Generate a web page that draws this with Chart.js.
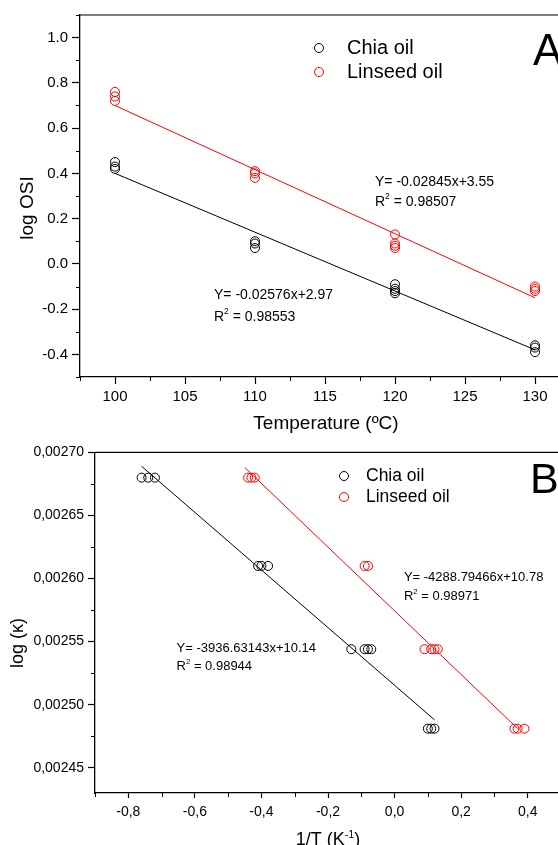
<!DOCTYPE html>
<html lang="en">
<head>
<meta charset="UTF-8">
<title>log OSI vs Temperature / 1/T vs log(k)</title>
<script src="https://cdn.jsdelivr.net/npm/chart.js"></script>
<style>
    html, body { margin: 0; padding: 0; background: #fff; width: 558px; height: 845px; overflow: hidden; }
    canvas { position: absolute; left: 0; }
    #chartA { top: 0; }
    #chartB { top: 440px; }
</style>
</head>
<body>
<canvas id="chartA" width="600" height="440"></canvas>
<canvas id="chartB" width="600" height="420"></canvas>

<script>
    const FONT = "'Liberation Sans', Arial, Helvetica, sans-serif";

    // ---- Panel A: log OSI vs temperature ----
    const chiaTempA    = [100, 100, 100, 110, 110, 110, 120, 120, 120, 120, 130, 130, 130];
    const chiaOsiA     = [0.45, 0.43, 0.42, 0.10, 0.09, 0.07, -0.09, -0.11, -0.12, -0.13, -0.36, -0.37, -0.39];
    const linseedTempA = [100, 100, 100, 110, 110, 110, 120, 120, 120, 120, 130, 130, 130];
    const linseedOsiA  = [0.76, 0.74, 0.72, 0.41, 0.40, 0.38, 0.13, 0.09, 0.08, 0.07, -0.10, -0.11, -0.12];
    const chiaFitTempA    = [100, 130];
    const chiaFitOsiA     = [0.40, -0.38];
    const linseedFitTempA = [100, 130];
    const linseedFitOsiA  = [0.70, -0.15];
    const xTicksA = [100, 105, 110, 115, 120, 125, 130];
    const yTicksA = [-0.4, -0.2, 0.0, 0.2, 0.4, 0.6, 0.8, 1.0];

    // ---- Panel B ----
    const chiaXB    = [-0.76, -0.74, -0.72, -0.41, -0.40, -0.38, -0.13, -0.09, -0.08, -0.07, 0.10, 0.11, 0.12];
    const chiaYB    = [0.00268, 0.00268, 0.00268, 0.00261, 0.00261, 0.00261, 0.002544, 0.002544, 0.002544, 0.002544, 0.002481, 0.002481, 0.002481];
    const linseedXB = [-0.44, -0.43, -0.42, -0.09, -0.08, 0.09, 0.11, 0.12, 0.13, 0.36, 0.37, 0.39];
    const linseedYB = [0.00268, 0.00268, 0.00268, 0.00261, 0.00261, 0.002544, 0.002544, 0.002544, 0.002544, 0.002481, 0.002481, 0.002481];
    const chiaFitXB    = [-0.76, 0.12];
    const chiaFitYB    = [0.002689, 0.002488];
    const linseedFitXB = [-0.45, 0.37];
    const linseedFitYB = [0.002688, 0.002481];
    const xTicksB = [-0.8, -0.6, -0.4, -0.2, 0.0, 0.2, 0.4];
    const yTicksB = [0.00245, 0.00250, 0.00255, 0.00260, 0.00265, 0.00270];

    const xy = (xs, ys) => xs.map((x, i) => ({ x, y: ys[i] }));

    function drawParts(ctx, parts, x, y, size, align) {
        const widths = parts.map(p => {
            ctx.font = (p.sup ? size * 0.6 : size) + 'px ' + FONT;
            return ctx.measureText(p.t).width;
        });
        const total = widths.reduce((a, b) => a + b, 0);
        let cx = align === 'center' ? x - total / 2 : x;
        ctx.textAlign = 'left';
        parts.forEach((p, i) => {
            ctx.font = (p.sup ? size * 0.6 : size) + 'px ' + FONT;
            ctx.fillText(p.t, cx, p.sup ? y - size * 0.38 : y);
            cx += widths[i];
        });
    }

    // frame, minor ticks, legend, equations, titles, panel letter
    const decor = {
        id: 'decor',
        afterDraw(chart, args, o) {
            const { ctx, chartArea: a, scales: { x, y } } = chart;
            ctx.save();
            ctx.strokeStyle = '#000';
            ctx.fillStyle = '#000';
            ctx.lineWidth = 1.2;
            ctx.beginPath();
            ctx.moveTo(a.left, a.top);
            ctx.lineTo(a.right, a.top);
            ctx.lineTo(a.right, a.bottom);
            ctx.stroke();

            // minor ticks (odd multiples of the minor step)
            ctx.lineWidth = 1;
            for (let k = Math.ceil(x.min / o.minorX); k * o.minorX <= x.max + 1e-12; k++) {
                if (k % 2 === 0) continue;
                const px = Math.round(x.getPixelForValue(k * o.minorX)) + 0.5;
                ctx.beginPath(); ctx.moveTo(px, a.bottom); ctx.lineTo(px, a.bottom + o.minorLen); ctx.stroke();
            }
            for (let k = Math.ceil(y.min / o.minorY - 1e-9); k * o.minorY <= y.max + 1e-12; k++) {
                if (k % 2 === 0) continue;
                const py = Math.round(y.getPixelForValue(k * o.minorY)) + 0.5;
                ctx.beginPath(); ctx.moveTo(a.left, py); ctx.lineTo(a.left - o.minorLen, py); ctx.stroke();
            }

            // legend
            const L = o.legend;
            ctx.textBaseline = 'middle';
            [0, 1].forEach(i => {
                const ds = chart.data.datasets[i];
                const ly = L.y + i * L.dy;
                ctx.strokeStyle = ds.pointBorderColor;
                ctx.beginPath(); ctx.arc(L.x, ly, L.r, 0, Math.PI * 2); ctx.stroke();
                ctx.fillStyle = '#000';
                ctx.font = L.size + 'px ' + FONT;
                ctx.textAlign = 'left';
                ctx.fillText(ds.label, L.textX, ly);
            });

            // equations placed in data space
            o.notes.forEach(n => {
                const nx = x.getPixelForValue(n.x);
                const ny = y.getPixelForValue(n.y);
                n.lines.forEach((parts, j) => drawParts(ctx, parts, nx, ny + j * n.dy, o.noteSize, 'left'));
            });

            // axis titles
            ctx.textBaseline = 'alphabetic';
            drawParts(ctx, o.xTitle.parts, o.xTitle.x, o.xTitle.y, o.xTitle.size, 'center');
            ctx.save();
            ctx.translate(o.yTitle.x, o.yTitle.y);
            ctx.rotate(-Math.PI / 2);
            drawParts(ctx, o.yTitle.parts, 0, 0, o.yTitle.size, 'center');
            ctx.restore();

            // panel letter
            ctx.font = o.letter.size + 'px ' + FONT;
            ctx.textAlign = 'left';
            ctx.fillText(o.letter.text, o.letter.x, o.letter.y);
            ctx.restore();
        }
    };

    function axis(min, max, ticks, fmt, fontSize, tickLength, padding, size, horizontal) {
        return {
            type: 'linear', min, max,
            afterBuildTicks: s => { s.ticks = ticks.map(v => ({ value: v })); },
            afterFit: s => { if (horizontal) s.height = size; else s.width = size; },
            ticks: { callback: fmt, color: '#000', font: { family: FONT, size: fontSize }, padding, autoSkip: false, maxRotation: 0 },
            grid: { display: true, drawOnChartArea: false, drawTicks: true, tickLength, tickWidth: 1.2, tickColor: '#000' },
            border: { display: true, color: '#000', width: 1.3 }
        };
    }

    function scatterSet(label, data, color) {
        return { label, data, showLine: false, pointStyle: 'circle', pointRadius: 4.5, pointBorderWidth: 1,
                 pointBackgroundColor: 'rgba(0,0,0,0)', pointBorderColor: color, borderColor: color };
    }
    function fitSet(data, color) {
        return { label: 'fit', data, showLine: true, pointRadius: 0, borderColor: color, borderWidth: 1, fill: false };
    }

    const sup = (t) => ({ t, sup: true });

    // Panel A
    new Chart(document.getElementById('chartA'), {
        type: 'scatter',
        data: {
            datasets: [
                scatterSet('Chia oil', xy(chiaTempA, chiaOsiA), '#000000'),
                scatterSet('Linseed oil', xy(linseedTempA, linseedOsiA), '#ff0000'),
                fitSet(xy(chiaFitTempA, chiaFitOsiA), '#000000'),
                fitSet(xy(linseedFitTempA, linseedFitOsiA), '#ff0000')
            ]
        },
        options: {
            responsive: false, animation: false,
            layout: { padding: { top: 15, right: 30, bottom: 0, left: 0 } },
            plugins: {
                legend: { display: false }, tooltip: { enabled: false },
                decor: {
                    minorX: 2.5, minorY: 0.1, minorLen: 4,
                    legend: { x: 319, y: 48, dy: 24, textX: 347, size: 20, r: 4.5 },
                    noteSize: 14,
                    notes: [
                        { x: 118.57, y: 0.362, dy: 20, lines: [[{ t: 'Y= -0.02845x+3.55' }], [{ t: 'R' }, sup('2'), { t: ' = 0.98507' }]] },
                        { x: 107.07, y: -0.138, dy: 22, lines: [[{ t: 'Y= -0.02576x+2.97' }], [{ t: 'R' }, sup('2'), { t: ' = 0.98553' }]] }
                    ],
                    xTitle: { parts: [{ t: 'Temperature (ºC)' }], x: 326, y: 429, size: 19 },
                    yTitle: { parts: [{ t: 'log OSI' }], x: 33, y: 208, size: 19 },
                    letter: { text: 'A', x: 533, y: 65, size: 44 }
                }
            },
            scales: {
                x: axis(97.5, 132.5, xTicksA, v => String(v), 15, 7, 4, 63, true),
                y: axis(-0.5, 1.1, yTicksA, v => (Math.abs(v) < 1e-9 ? 0 : v).toFixed(1), 15, 8, 4, 80, false)
            }
        },
        plugins: [decor]
    });

    // Panel B
    new Chart(document.getElementById('chartB'), {
        type: 'scatter',
        data: {
            datasets: [
                scatterSet('Chia oil', xy(chiaXB, chiaYB), '#000000'),
                scatterSet('Linseed oil', xy(linseedXB, linseedYB), '#ff0000'),
                fitSet(xy(chiaFitXB, chiaFitYB), '#000000'),
                fitSet(xy(linseedFitXB, linseedFitYB), '#ff0000')
            ]
        },
        options: {
            responsive: false, animation: false,
            layout: { padding: { top: 10, right: 39, bottom: 0, left: 0 } },
            plugins: {
                legend: { display: false }, tooltip: { enabled: false },
                decor: {
                    minorX: 0.1, minorY: 0.000025, minorLen: 4,
                    legend: { x: 344, y: 36, dy: 21, textX: 366, size: 17.5, r: 4.5 },
                    noteSize: 13,
                    notes: [
                        { x: 0.028, y: 0.0026008, dy: 19, lines: [[{ t: 'Y= -4288.79466x+10.78' }], [{ t: 'R' }, sup('2'), { t: ' = 0.98971' }]] },
                        { x: -0.655, y: 0.0025445, dy: 18, lines: [[{ t: 'Y= -3936.63143x+10.14' }], [{ t: 'R' }, sup('2'), { t: ' = 0.98944' }]] }
                    ],
                    xTitle: { parts: [{ t: '1/T (K' }, sup('-1'), { t: ')' }], x: 328, y: 405, size: 18 },
                    yTitle: { parts: [{ t: 'log (κ)' }], x: 23, y: 203, size: 18 },
                    letter: { text: 'B', x: 530, y: 53, size: 43 }
                }
            },
            scales: {
                x: axis(-0.9, 0.5, xTicksB, v => (Math.abs(v) < 1e-9 ? 0 : v).toFixed(1).replace('.', ','), 14, 5, 6, 67, true),
                y: axis(0.00243, 0.0027, yTicksB, v => v.toFixed(5).replace('.', ','), 14, 7, 4, 95, false)
            }
        },
        plugins: [decor]
    });
</script>
</body>
</html>
